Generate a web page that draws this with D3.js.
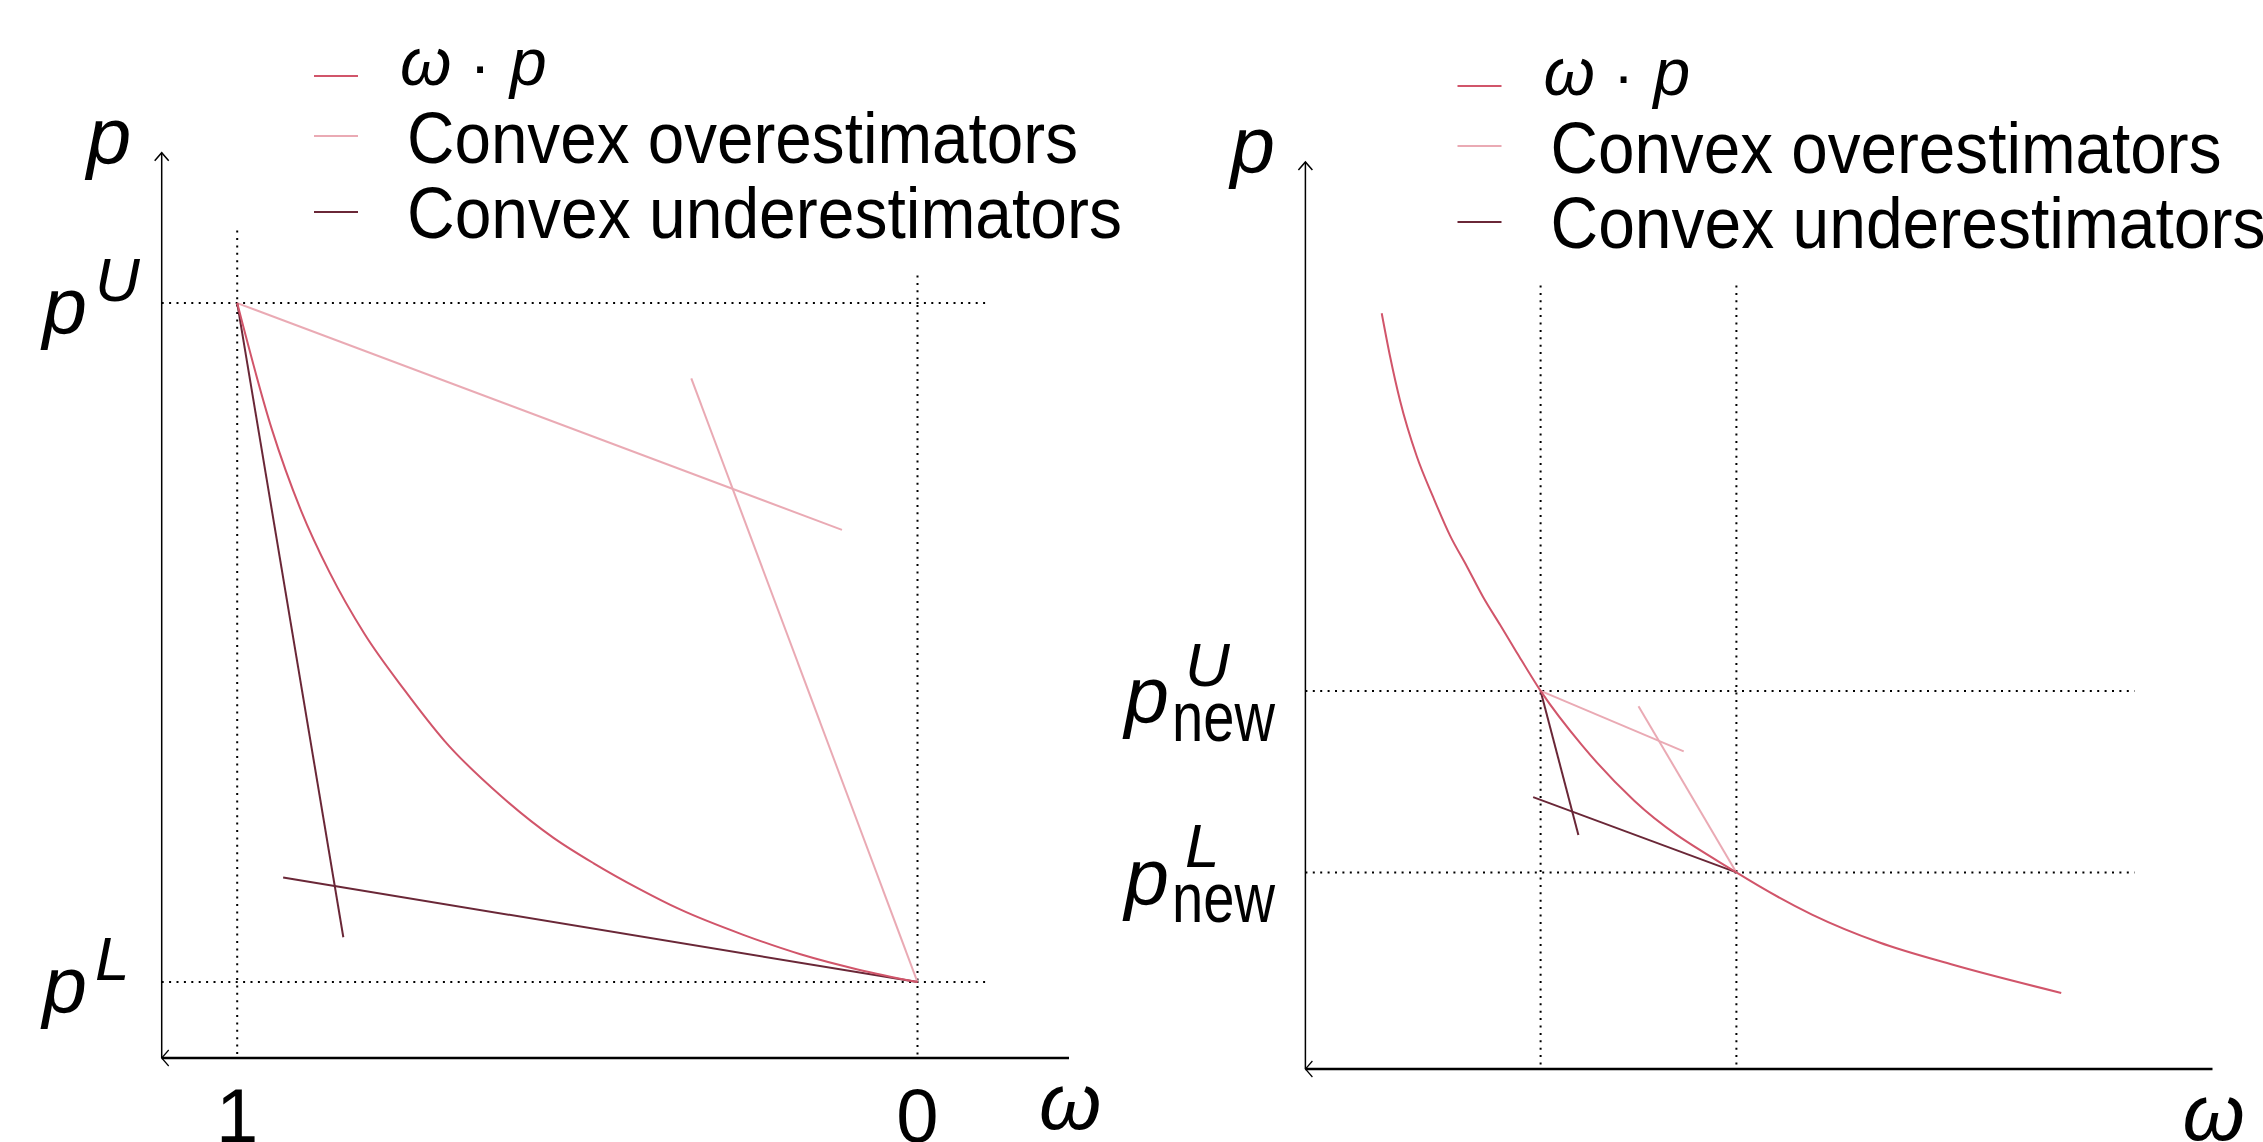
<!DOCTYPE html>
<meta charset="utf-8">
<script src="https://d3js.org/d3.v7.min.js"></script>
<style>
  body { margin: 0; background: #fff; }
  svg { display: block; }
  text { font-family: "Liberation Sans", Arial, sans-serif; fill: #000; }
</style>
<body>
<div id="my_dataviz"></div>
<script>

// ---- values (plot units: p^L = 0, p^U = 1, omega^U = 1, omega^L = 0) ----

// left panel : the original box
var leftCurveW = [1, 0.949, 0.906, 0.864, 0.813, 0.754, 0.695, 0.611, 0.535, 0.476, 0.4085, 0.349, 0.257, 0.172, 0.088, 0];
var leftCurveP = [1, 0.814, 0.694, 0.603, 0.513, 0.430, 0.355, 0.273, 0.2125, 0.175, 0.137, 0.107, 0.070, 0.041, 0.0187, 0];
var leftOver  = [[[1, 1], [0.111, 0.666]], [[0.3325, 0.889], [0, 0]]];
var leftUnder = [[[1, 1], [0.844, 0.066]], [[0.9325, 0.154], [0, 0]]];
var leftTicks = [1, 0];
var leftTickLabels = ["1", "0"];

// right panel : the new (smaller) box
var rightCurveW = [1.8115, 1.769, 1.718, 1.633, 1.548, 1.463, 1.377, 1.293, 1.207, 1.122, 1, 0.789, 0.523, 0, -0.386, -0.727, -1.106, -1.659];
var rightCurveP = [3.081, 2.844, 2.60, 2.294, 2.066, 1.857, 1.687, 1.516, 1.364, 1.212, 1, 0.701, 0.396, 0, -0.2325, -0.385, -0.509, -0.664];
var rightOver  = [[[1, 1], [0.269, 0.667]], [[0.5, 0.916], [0, 0]]];
var rightUnder = [[[1, 1], [0.807, 0.206]], [[1.038, 0.415], [0, 0]]];

// bounds drawn with dotted lines, and their labels
var boundsW = [1, 0];
var boundsP = [1, 0];
var leftBoundLabels  = [{base: "p", sup: "U", sub: ""}, {base: "p", sup: "L", sub: ""}];
var rightBoundLabels = [{base: "p", sup: "U", sub: "new"}, {base: "p", sup: "L", sub: "new"}];

var legendLabels = ["ω · p", "Convex overestimators", "Convex underestimators"];

var colCurve = "#d1556a", colOver = "#eaaab4", colUnder = "#6a2737";
var legendColors = [colCurve, colOver, colUnder];

// ---- svg ----
var svg = d3.select("#my_dataviz")
  .append("svg")
    .attr("width", 2263)
    .attr("height", 1142);

function drawPanel(o) {
  var x = d3.scaleLinear().domain([1, 0]).range(o.xRange);
  var y = d3.scaleLinear().domain([0, 1]).range(o.yRange);
  var g = svg.append("g");

  // dotted bound lines
  boundsP.forEach(function(v) {
    g.append("line")
      .attr("x1", o.axisX).attr("x2", o.hDotEnd)
      .attr("y1", y(v)).attr("y2", y(v))
      .attr("stroke", "#000").attr("stroke-width", 2)
      .attr("stroke-dasharray", "2,5.4");
  });
  boundsW.forEach(function(v, i) {
    g.append("line")
      .attr("x1", x(v)).attr("x2", x(v))
      .attr("y1", o.vDotTop[i]).attr("y2", o.axisY)
      .attr("stroke", "#000").attr("stroke-width", 2)
      .attr("stroke-dasharray", "2,5.4");
  });

  // axes
  g.append("line")
    .attr("x1", o.axisX).attr("x2", o.axisX)
    .attr("y1", o.axisTop).attr("y2", o.axisY)
    .attr("stroke", "#000").attr("stroke-width", 1.5);
  g.append("path")
    .attr("d", "M" + (o.axisX - 7) + "," + (o.axisTop + 8) + "L" + o.axisX + "," + o.axisTop + "L" + (o.axisX + 7) + "," + (o.axisTop + 8))
    .attr("fill", "none").attr("stroke", "#000").attr("stroke-width", 1.5);
  g.append("line")
    .attr("x1", o.axisX).attr("x2", o.axisRight)
    .attr("y1", o.axisY).attr("y2", o.axisY)
    .attr("stroke", "#000").attr("stroke-width", 2.6);
  g.append("path")
    .attr("d", "M" + (o.axisX + 7) + "," + (o.axisY - 8) + "L" + o.axisX + "," + o.axisY + "L" + (o.axisX + 7) + "," + (o.axisY + 8))
    .attr("fill", "none").attr("stroke", "#000").attr("stroke-width", 1.2);

  // estimator lines
  var seg = d3.line().x(function(d) { return x(d[0]); }).y(function(d) { return y(d[1]); });
  o.over.forEach(function(s) {
    g.append("path").attr("d", seg(s)).attr("fill", "none")
      .attr("stroke", colOver).attr("stroke-width", 2);
  });
  o.under.forEach(function(s) {
    g.append("path").attr("d", seg(s)).attr("fill", "none")
      .attr("stroke", colUnder).attr("stroke-width", 2);
  });

  // the w.p curve
  var pts = o.curveW.map(function(w, i) { return [w, o.curveP[i]]; });
  g.append("path")
    .attr("d", d3.line().curve(d3.curveMonotoneX)
      .x(function(d) { return x(d[0]); })
      .y(function(d) { return y(d[1]); })(pts))
    .attr("fill", "none").attr("stroke", colCurve).attr("stroke-width", 2);

  // axis labels
  g.append("text").attr("x", o.axisX - 75).attr("y", o.axisTop + 10)
    .style("font-size", "80px").style("font-style", "italic").text("p");
  g.append("text").attr("x", o.axisRight - 30).attr("y", o.axisY + 71)
    .style("font-size", "80px").style("font-style", "italic").text("ω");

  // tick labels
  o.ticks.forEach(function(v, i) {
    g.append("text").attr("x", x(v)).attr("y", o.axisY + 84)
      .attr("text-anchor", "middle").style("font-size", "76px")
      .text(o.tickLabels[i]);
  });

  // bound labels
  o.boundLabels.forEach(function(l, i) {
    var yy = y(boundsP[i]);
    g.append("text").attr("x", o.baseEnd).attr("y", yy + o.baseDy)
      .attr("text-anchor", "end")
      .style("font-size", "80px").style("font-style", "italic").text(l.base);
    g.append("text").attr("x", o.supX).attr("y", yy + o.supDy)
      .style("font-size", "62px").style("font-style", "italic").text(l.sup);
    if (l.sub) {
      g.append("text").attr("x", o.supX - 13).attr("y", yy + o.subDy)
        .attr("textLength", 103).attr("lengthAdjust", "spacingAndGlyphs")
        .style("font-size", "70px").text(l.sub);
    }
  });

  // legend
  var lx = o.legendX, ly = o.legendY;
  var rowY = [76, 136, 212];
  legendColors.forEach(function(c, i) {
    g.append("line").attr("x1", lx).attr("x2", lx + 44)
      .attr("y1", ly + rowY[i]).attr("y2", ly + rowY[i])
      .attr("stroke", c).attr("stroke-width", 2.2);
  });
  g.append("text").attr("x", lx + 86).attr("y", ly + 85)
    .style("font-size", "66px").style("font-style", "italic").text(legendLabels[0].charAt(0));
  g.append("text").attr("x", lx + 166).attr("y", ly + 86)
    .attr("text-anchor", "middle").style("font-size", "62px").text("·");
  g.append("text").attr("x", lx + 196).attr("y", ly + 85)
    .style("font-size", "66px").style("font-style", "italic").text(legendLabels[0].charAt(4));
  g.append("text").attr("x", lx + 93).attr("y", ly + 163)
    .attr("textLength", 671).attr("lengthAdjust", "spacingAndGlyphs")
    .style("font-size", "73px").text(legendLabels[1]);
  g.append("text").attr("x", lx + 93).attr("y", ly + 238)
    .attr("textLength", 715).attr("lengthAdjust", "spacingAndGlyphs")
    .style("font-size", "73px").text(legendLabels[2]);
}

drawPanel({
  xRange: [237.2, 917.5], yRange: [982.1, 303.1],
  axisX: 161.7, axisY: 1058, axisTop: 152.7, axisRight: 1069,
  hDotEnd: 990, vDotTop: [230.6, 275.5],
  curveW: leftCurveW, curveP: leftCurveP, over: leftOver, under: leftUnder,
  ticks: leftTicks, tickLabels: leftTickLabels,
  boundLabels: leftBoundLabels, supX: 95, baseEnd: 87, baseDy: 30, supDy: -2.5, subDy: 0,
  legendX: 314, legendY: 0
});

drawPanel({
  xRange: [1540.6, 1736.4], yRange: [872.4, 690.9],
  axisX: 1305.4, axisY: 1069, axisTop: 162, axisRight: 2212.5,
  hDotEnd: 2134.6, vDotTop: [285.5, 285.5],
  curveW: rightCurveW, curveP: rightCurveP, over: rightOver, under: rightUnder,
  ticks: [], tickLabels: [],
  boundLabels: rightBoundLabels, supX: 1185, baseEnd: 1169, baseDy: 31.5, supDy: -5, subDy: 50,
  legendX: 1457.5, legendY: 10
});

</script>
